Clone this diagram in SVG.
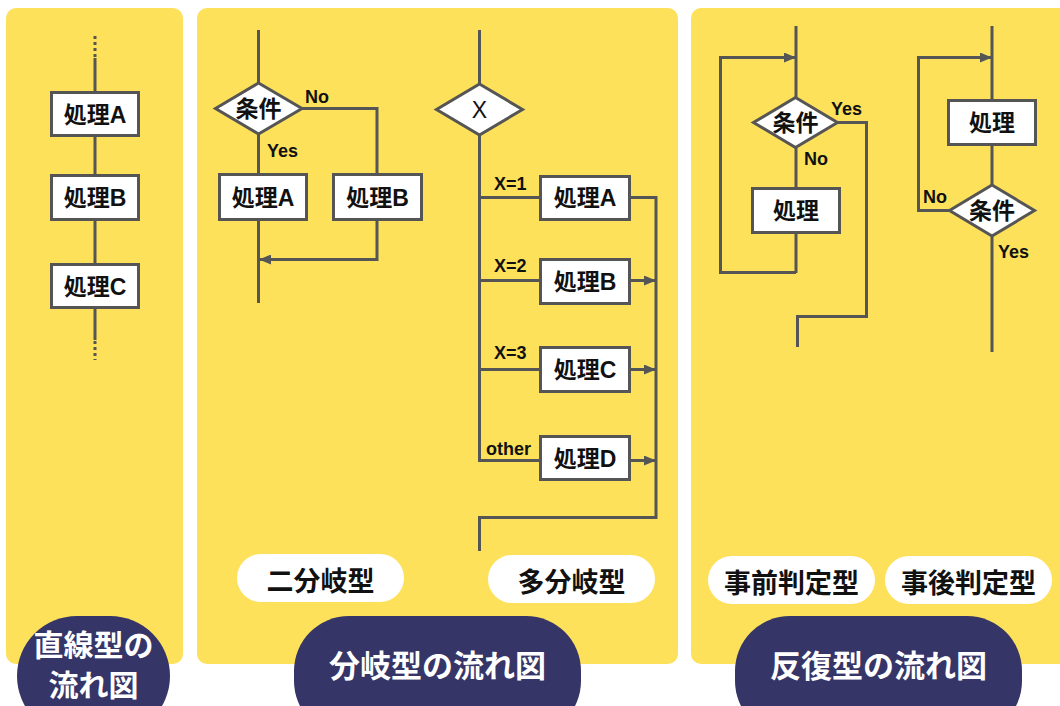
<svg xmlns="http://www.w3.org/2000/svg" width="1060" height="706" viewBox="0 0 1060 706">
<defs>
<style>
.panel{fill:#FEE15B}
.ln{fill:none;stroke:#555555;stroke-width:3}
.dot{fill:none;stroke:#555555;stroke-width:3;stroke-dasharray:3 3}
.box{fill:#ffffff;stroke:#555555;stroke-width:3}
.t{font-family:"Liberation Sans","Noto Sans CJK JP",sans-serif;font-weight:bold;fill:#111111}
.bt{font-size:23px;text-anchor:middle;dominant-baseline:central}
.lb{font-size:18px}
.wp{fill:#ffffff}
.dp{fill:#363567}
.wt{font-family:"Noto Sans CJK JP",sans-serif;font-weight:bold;font-size:27px;fill:#111111;text-anchor:middle;dominant-baseline:central}
.dt{font-family:"Noto Sans CJK JP",sans-serif;font-weight:bold;font-size:31px;fill:#ffffff;text-anchor:middle;dominant-baseline:central}
</style>
<marker id="ah" viewBox="0 0 12 10" refX="12" refY="5" markerWidth="12" markerHeight="10" markerUnits="userSpaceOnUse" orient="auto">
<path d="M0,0 L12,5 L0,10 Z" fill="#555555"/>
</marker>
</defs>

<rect width="1060" height="706" fill="#ffffff"/>
<g id="panels">
<rect class="panel" x="6" y="8" width="177" height="656" rx="10"/>
<rect class="panel" x="197" y="8" width="481" height="656" rx="10"/>
<rect class="panel" x="691" y="8" width="380" height="656" rx="10"/>
</g>

<g id="connectors">
<!-- linear -->
<line class="dot" x1="95" y1="36" x2="95" y2="57"/>
<line class="ln" x1="95" y1="58" x2="95" y2="340"/>
<line class="dot" x1="95" y1="341" x2="95" y2="360"/>
<!-- two-way -->
<line class="ln" x1="258.5" y1="30" x2="258.5" y2="303"/>
<polyline class="ln" points="302,108.5 377,108.5 377,174"/>
<polyline class="ln" points="377,221 377,259.5 259,259.5" marker-end="url(#ah)"/>
<!-- multi-way -->
<line class="ln" x1="479.5" y1="30" x2="479.5" y2="462"/>
<line class="ln" x1="479.5" y1="197.5" x2="540" y2="197.5"/>
<line class="ln" x1="479.5" y1="280.5" x2="540" y2="280.5"/>
<line class="ln" x1="479.5" y1="369.5" x2="540" y2="369.5"/>
<line class="ln" x1="478" y1="460.5" x2="540" y2="460.5"/>
<polyline class="ln" points="631,197.5 656,197.5 656,517.5 479.5,517.5 479.5,551"/>
<line class="ln" x1="631" y1="280.5" x2="656" y2="280.5" marker-end="url(#ah)"/>
<line class="ln" x1="631" y1="369.5" x2="656" y2="369.5" marker-end="url(#ah)"/>
<line class="ln" x1="631" y1="460.5" x2="656" y2="460.5" marker-end="url(#ah)"/>
<!-- pre-test loop -->
<line class="ln" x1="796" y1="26" x2="796" y2="273"/>
<polyline class="ln" points="796,272.5 720.5,272.5 720.5,57.5 796,57.5" marker-end="url(#ah)"/>
<polyline class="ln" points="838,122.5 866.5,122.5 866.5,316.5 797.5,316.5 797.5,347"/>
<!-- post-test loop -->
<line class="ln" x1="992" y1="26" x2="992" y2="352"/>
<polyline class="ln" points="949,210.5 918.5,210.5 918.5,57.5 992,57.5" marker-end="url(#ah)"/>
</g>

<g id="n-linear-A"><rect class="box" x="51.5" y="92.5" width="87" height="43"/><text class="t bt" x="95" y="115">処理A</text></g>
<g id="n-linear-B"><rect class="box" x="51.5" y="175.5" width="87" height="44"/><text class="t bt" x="95" y="198">処理B</text></g>
<g id="n-linear-C"><rect class="box" x="51.5" y="264.5" width="87" height="43"/><text class="t bt" x="95" y="287">処理C</text></g>

<g id="n-two-cond"><polygon class="box" points="258.5,83 302,108.5 258.5,134 215.5,108.5"/><text class="t bt" x="258.5" y="109">条件</text></g>
<text class="t lb" x="305" y="103">No</text>
<text class="t lb" x="267" y="157">Yes</text>
<g id="n-two-A"><rect class="box" x="219.5" y="174.5" width="87" height="45"/><text class="t bt" x="263" y="198">処理A</text></g>
<g id="n-two-B"><rect class="box" x="333.5" y="174.5" width="88" height="45"/><text class="t bt" x="377.5" y="198">処理B</text></g>

<g id="n-multi-X"><polygon class="box" points="479.5,84 522.5,109.5 479.5,135 436.5,109.5"/><text class="t bt" x="479.5" y="110" style="font-weight:normal">X</text></g>
<text class="t lb" x="494" y="190">X=1</text>
<text class="t lb" x="494" y="272">X=2</text>
<text class="t lb" x="494" y="359">X=3</text>
<text class="t lb" x="486" y="455">other</text>
<g id="n-multi-A"><rect class="box" x="540.5" y="176.5" width="89" height="43"/><text class="t bt" x="585" y="198">処理A</text></g>
<g id="n-multi-B"><rect class="box" x="540.5" y="259.5" width="89" height="44"/><text class="t bt" x="585" y="282">処理B</text></g>
<g id="n-multi-C"><rect class="box" x="540.5" y="347.5" width="89" height="44"/><text class="t bt" x="585" y="370">処理C</text></g>
<g id="n-multi-D"><rect class="box" x="540.5" y="436.5" width="89" height="43"/><text class="t bt" x="585" y="459">処理D</text></g>

<g id="n-pre-cond"><polygon class="box" points="795.5,97.5 837.5,122.5 795.5,147.5 753.5,122.5"/><text class="t bt" x="795.5" y="123">条件</text></g>
<text class="t lb" x="831" y="115">Yes</text>
<text class="t lb" x="804" y="165">No</text>
<g id="n-pre-proc"><rect class="box" x="752.5" y="188.5" width="87" height="44"/><text class="t bt" x="796" y="211">処理</text></g>

<g id="n-post-proc"><rect class="box" x="948.5" y="100.5" width="87" height="44"/><text class="t bt" x="992" y="123">処理</text></g>
<g id="n-post-cond"><polygon class="box" points="992,185 1034.5,210.5 992,236 949.5,210.5"/><text class="t bt" x="992" y="211">条件</text></g>
<text class="t lb" x="923" y="203">No</text>
<text class="t lb" x="998" y="258">Yes</text>

<g id="l-two"><rect class="wp" x="237" y="554" width="167" height="48" rx="24"/><text class="wt" x="320.5" y="579">二分岐型</text></g>
<g id="l-multi"><rect class="wp" x="488" y="555" width="167" height="48" rx="24"/><text class="wt" x="571.5" y="580">多分岐型</text></g>
<g id="l-pre"><rect class="wp" x="708" y="556" width="167" height="48" rx="24"/><text class="wt" x="791.5" y="581">事前判定型</text></g>
<g id="l-post"><rect class="wp" x="885" y="556" width="167" height="48" rx="24"/><text class="wt" x="968.5" y="581">事後判定型</text></g>

<g id="t-linear"><rect class="dp" x="17" y="616" width="153" height="120" rx="60"/><text class="dt" x="93.5" y="643" style="font-size:30px">直線型の</text><text class="dt" x="93.5" y="683" style="font-size:30px">流れ図</text></g>
<g id="t-branch"><rect class="dp" x="294" y="616" width="287" height="120" rx="55"/><text class="dt" x="437.5" y="663">分岐型の流れ図</text></g>
<g id="t-loop"><rect class="dp" x="735" y="616" width="287" height="120" rx="55"/><text class="dt" x="878.5" y="663">反復型の流れ図</text></g>
</svg>
